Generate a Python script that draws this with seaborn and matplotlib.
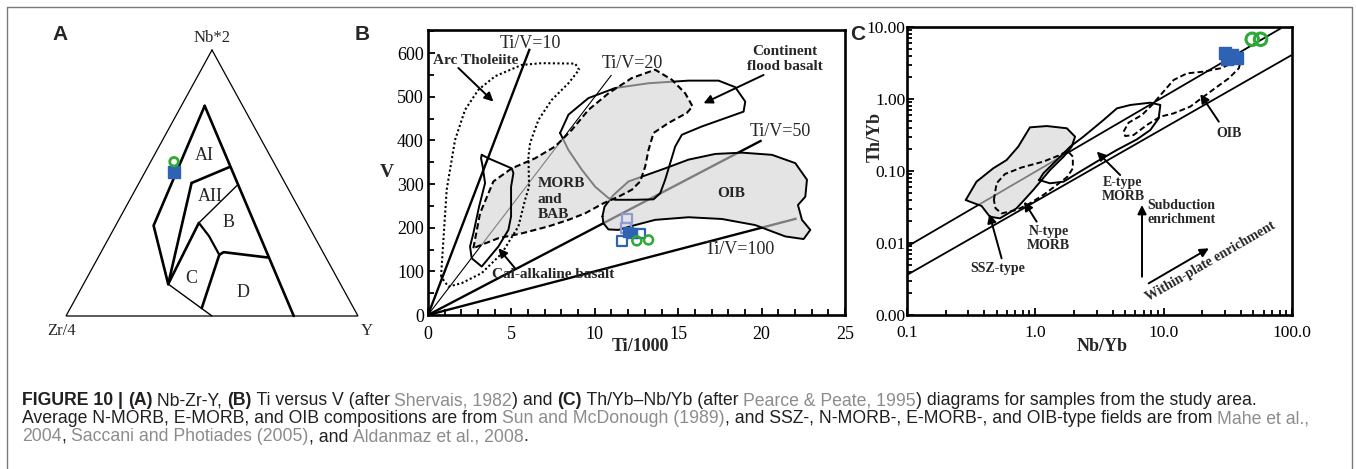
import numpy as np
import pandas as pd
import matplotlib
matplotlib.use("Agg")
import matplotlib.pyplot as plt
import seaborn as sns
from matplotlib.lines import Line2D
from matplotlib.ticker import MultipleLocator, FixedLocator, LogLocator, NullFormatter

W, H = 1356, 469
DPI = 100

# ---------------- Panel A: Nb*2 - Zr/4 - Y ternary (Nb, Zr, Y in %) ----------------
tri_outline = [(100, 0, 0), (0, 100, 0), (0, 0, 100), (100, 0, 0)]
a_right = [(79, 13, 8), (0, 22, 78)]
a_outer_left = [(79, 13, 8), (34, 53, 13), (12, 59, 29)]
a_aii_left = [(50, 32, 18), (12, 59, 29)]
a_ai_aii = [(50, 32, 18), (56, 16, 28)]
a_aii_b = [(49, 17, 34), (35, 37, 28)]
a_c_left = [(35, 37, 28), (12, 59, 29)]
a_b_c = [(35, 37, 28), (30, 36, 34), (23, 36, 41)]
a_b_d = [(23, 36, 41), (24, 34, 42), (22, 20, 58)]
a_c_d = [(23, 36, 41), (3, 52, 45)]
a_base_tie = [(12, 59, 29), (0, 50, 50)]
a_samples_sq = [(54, 36, 10)]
a_samples_ci = [(58, 34, 8)]

# ---------------- Panel B: Ti/1000 vs V ----------------
tiv_ratio = [10, 20, 50, 100]
tiv_xend = [6.1, 11.0, 20.0, 22.1]

arc_x = [0.78, 1.12, 1.62, 2.22, 3.02, 4.02, 5.62, 6.82, 8.82, 9.06, 8.42, 7.42, 6.62,
         6.12, 6.02, 6.06, 5.82, 5.42, 4.42, 3.22, 2.02, 1.22, 0.78]
arc_y = [88, 287, 401, 470, 516, 547, 573, 577, 576, 562, 531, 493, 447,
         394, 363, 294, 264, 203, 141, 96, 73, 65, 88]

calc_x = [3.22, 3.62, 5.02, 5.12, 4.98, 4.98, 4.82, 4.22, 3.22, 2.62, 2.52, 2.72, 3.06,
          3.42, 3.28, 3.18, 3.22]
calc_y = [367, 359, 336, 325, 294, 226, 195, 157, 111, 130, 157, 187, 248,
          302, 340, 359, 367]

morb_x = [2.72, 3.12, 3.92, 5.02, 6.42, 7.62, 8.62, 9.62, 10.82, 12.22, 13.62, 14.62, 15.42,
          15.86, 15.52, 14.42, 13.52, 13.22, 13.02, 12.72, 12.22, 11.42, 10.52, 9.42, 8.42,
          7.22, 5.62, 4.22, 3.22, 2.72]
morb_y = [153, 233, 306, 336, 359, 386, 424, 470, 508, 543, 562, 539, 508,
          478, 463, 440, 417, 378, 340, 306, 287, 271, 256, 233, 218,
          203, 187, 176, 161, 153]

cfb_x = [7.92, 8.42, 9.62, 11.22, 13.22, 15.62, 17.42, 18.42, 19.02, 18.92, 17.82, 16.42,
         15.22, 14.82, 14.52, 14.22, 13.92, 13.52, 12.42, 11.22, 10.82, 10.02, 9.22, 8.42, 7.92]
cfb_y = [417, 459, 497, 520, 531, 537, 537, 522, 489, 466, 451, 432,
         413, 386, 348, 310, 279, 265, 264, 264, 268, 294, 333, 378, 417]

oibb_x = [10.46, 10.58, 11.12, 12.02, 12.82, 14.22, 15.62, 17.22, 18.82, 20.62, 22.02, 22.72,
          22.62, 22.18, 22.42, 22.92, 22.52, 21.42, 19.62, 17.62, 15.62, 13.62, 12.22, 11.42,
          10.82, 10.52, 10.46]
oibb_y = [226, 248, 275, 306, 317, 336, 356, 369, 372, 367, 348, 310,
          271, 252, 218, 195, 174, 180, 206, 220, 224, 218, 204, 195,
          196, 210, 226]

b_lav_x, b_lav_y = [11.92, 11.86], [221, 199]
b_blue_fill_x, b_blue_fill_y = [12.02, 12.22], [191, 187]
b_blue_open_x, b_blue_open_y = [11.62, 12.72], [170, 187]
b_green_x, b_green_y = [12.52, 13.22], [170, 172]

# ---------------- Panel C: Nb/Yb vs Th/Yb ----------------
arr_upper_x, arr_upper_y = [0.1, 82], [0.0089, 9.6]
arr_lower_x, arr_lower_y = [0.1, 100], [0.0036, 4.1]

ssz_x = [0.287, 0.348, 0.470, 0.597, 0.736, 0.908, 1.23, 1.76, 2.04, 1.92, 1.66, 1.30,
         0.964, 0.714, 0.530, 0.442, 0.381, 0.309, 0.287]
ssz_y = [0.0396, 0.0711, 0.109, 0.142, 0.218, 0.404, 0.421, 0.392, 0.300, 0.218, 0.158, 0.103,
         0.0545, 0.0303, 0.022, 0.0232, 0.0327, 0.0375, 0.0396]

nmorb_x = [0.475, 0.499, 0.580, 0.782, 1.155, 1.56, 1.78, 1.96, 1.96, 1.78, 1.47, 1.155,
           0.908, 0.714, 0.546, 0.49, 0.475]
nmorb_y = [0.0396, 0.0675, 0.0908, 0.112, 0.135, 0.167, 0.191, 0.158, 0.109, 0.0834, 0.064,
           0.0465, 0.0356, 0.0287, 0.0258, 0.0303, 0.0396]

emorb_x = [1.07, 1.30, 1.66, 2.23, 3.01, 4.32, 6.19, 7.87, 9.14, 9.42, 7.87, 5.50, 4.32,
           3.40, 2.37, 1.87, 1.47, 1.155, 1.07]
emorb_y = [0.075, 0.0675, 0.0711, 0.098, 0.135, 0.196, 0.275, 0.371, 0.538, 0.826, 0.889,
           0.826, 0.741, 0.511, 0.300, 0.218, 0.142, 0.0929, 0.075]

oibc_x = [4.87, 5.33, 6.78, 8.11, 9.71, 11.97, 15.2, 20.5, 27.7, 35.2, 39.3, 38.5, 32.2,
          26.1, 20.5, 16.1, 11.97, 9.42, 7.41, 5.83, 5.01, 4.87]
oibc_y = [0.352, 0.469, 0.600, 0.826, 1.20, 1.84, 2.27, 2.40, 2.67, 3.20, 3.06, 2.67, 1.94,
          1.48, 1.08, 0.783, 0.632, 0.569, 0.436, 0.316, 0.306, 0.352]

c_sq_x, c_sq_y = [30.3, 34.2, 37.0, 31.3], [4.31, 4.08, 3.67, 3.56]
c_ci_x, c_ci_y = [49.0, 56.9], [6.75, 6.75]

c_xticks = [0.1, 1, 10, 100]
c_xticklabels = ["0.1", "1.0", "10.0", "100.0"]
c_yticks = [0.001, 0.01, 0.1, 1, 10]
c_yticklabels = ["0.00", "0.01", "0.10", "1.00", "10.00"]

# ---------------- style ----------------
sns.set_theme(style="white")
plt.rcParams["font.family"] = ["Liberation Serif", "DejaVu Serif"]
plt.rcParams["axes.edgecolor"] = "black"
plt.rcParams["xtick.color"] = "black"
plt.rcParams["ytick.color"] = "black"

BLUE = "#2e63b3"
LAV = "#8f9bd3"
GREEN = "#2da936"
FILL = "#d3d3d3"
FILL_ALPHA = 0.6

fig = plt.figure(figsize=(W / DPI, H / DPI), dpi=DPI)


def px_box(l, t, r, b):
    return [l / W, 1 - b / H, (r - l) / W, (b - t) / H]


# ---------------- Panel A ----------------
axA = fig.add_axes(px_box(66, 50, 358, 316))
axA.set_xlim(0, 1)
axA.set_ylim(0, 1)
axA.axis("off")


def tern_xy(pts):
    a = np.asarray(pts, float) / 100.0
    nb, yv = a[:, 0], a[:, 2]
    return yv + nb / 2.0, nb


x, y = tern_xy(tri_outline)
axA.plot(x, y, color="black", lw=0.9, clip_on=False, solid_joinstyle="miter")
for seg, lw in [(a_right, 1.9), (a_outer_left, 1.9), (a_aii_left, 1.9), (a_ai_aii, 1.9),
                (a_aii_b, 1.0), (a_c_left, 1.9), (a_b_c, 1.6), (a_b_d, 1.9), (a_c_d, 1.9),
                (a_base_tie, 1.0)]:
    x, y = tern_xy(seg)
    axA.plot(x, y, color="black", lw=lw, clip_on=False)

sx, sy = tern_xy(a_samples_sq)
sns.scatterplot(x=sx, y=sy, ax=axA, marker="s", s=75, color=BLUE, edgecolor=BLUE,
                linewidth=1, clip_on=False, zorder=5, legend=False)
cx, cy = tern_xy(a_samples_ci)
sns.scatterplot(x=cx, y=cy, ax=axA, marker="o", s=38, color=GREEN, facecolor="none",
                edgecolor=GREEN, linewidth=2, clip_on=False, zorder=5, legend=False)

for txt, tx, ty, ha in [("Nb*2", 0.5, 1.045, "center"), ("Zr/4", -0.014, -0.055, "center"),
                        ("Y", 1.031, -0.055, "center")]:
    axA.text(tx, ty, txt, ha=ha, va="center", fontsize=12, clip_on=False)

for txt, comp in [("AI", (60.5, 22.5, 17)), ("AII", (45, 28, 27)), ("B", (35, 27, 38)),
                  ("C", (14, 50, 36)), ("D", (9, 35, 56))]:
    lx, ly = tern_xy([comp])
    axA.text(lx[0], ly[0], txt, ha="center", va="center", fontsize=13)

# ---------------- Panel B ----------------
axB = fig.add_axes(px_box(428, 30, 845, 315))
axB.set_xlim(0, 25)
axB.set_ylim(0, 653)

for ratio, xe in zip(tiv_ratio, tiv_xend):
    xs = np.array([0.0, xe])
    lw = 0.8 if ratio == 20 else 1.7
    z = 4 if ratio == 10 else 1
    axB.plot(xs, xs * 1000.0 / ratio, color="black", lw=lw, zorder=z,
             solid_capstyle="butt")

axB.fill(oibb_x, oibb_y, color=FILL, alpha=FILL_ALPHA, lw=0, zorder=1.5)
axB.plot(oibb_x, oibb_y, color="black", lw=1.4, zorder=2)
axB.plot(cfb_x, cfb_y, color="black", lw=1.4, zorder=2)
axB.fill(morb_x, morb_y, color=FILL, alpha=FILL_ALPHA, lw=0, zorder=2.5)
axB.plot(morb_x, morb_y, color="black", lw=1.5, ls=(0, (3.0, 1.6)), zorder=3)
axB.plot(calc_x, calc_y, color="black", lw=1.4, zorder=3)
axB.plot(arc_x, arc_y, color="black", lw=1.5, ls=(0, (1.0, 1.2)), zorder=3)

sns.scatterplot(x=b_lav_x, y=b_lav_y, ax=axB, marker="s", s=48, color=LAV, facecolor="none",
                edgecolor=LAV, linewidth=1.6, zorder=6, legend=False)
sns.scatterplot(x=b_blue_fill_x, y=b_blue_fill_y, ax=axB, marker="s", s=55, color=BLUE,
                edgecolor=BLUE, linewidth=1, zorder=6, legend=False)
sns.scatterplot(x=b_blue_open_x, y=b_blue_open_y, ax=axB, marker="s", s=48, color=BLUE,
                facecolor="none", edgecolor=BLUE, linewidth=1.6, zorder=6, legend=False)
sns.scatterplot(x=b_green_x, y=b_green_y, ax=axB, marker="o", s=42, color=GREEN,
                facecolor="none", edgecolor=GREEN, linewidth=1.8, zorder=6, legend=False)

bold_b = dict(fontsize=11, fontweight="bold", zorder=7)
axB.text(0.3, 582, "Arc Tholeiite", ha="left", va="center", **bold_b)
axB.text(21.4, 587, "Continent\nflood basalt", ha="center", va="center",
         linespacing=1.2, **bold_b)
axB.text(18.2, 279, "OIB", ha="center", va="center", **bold_b)
axB.text(6.58, 265, "MORB\nand\nBAB", ha="left", va="center", linespacing=1.25, **bold_b)
axB.text(3.82, 92, "Cal-alkaline basalt", ha="left", va="center", **bold_b)
for txt, tx, ty in [("Ti/V=10", 4.3, 623), ("Ti/V=20", 10.4, 577),
                    ("Ti/V=50", 19.3, 420), ("Ti/V=100", 16.6, 151)]:
    axB.text(tx, ty, txt, ha="left", va="center", fontsize=13, zorder=7)

arrow_kw = dict(arrowstyle="-|>", color="black", lw=1.4, mutation_scale=13,
                shrinkA=0, shrinkB=0)
for tail, head in [((1.82, 566), (3.92, 489)), ((20.12, 550), (16.52, 485)),
                   ((5.22, 107), (4.22, 153))]:
    axB.annotate("", xy=head, xytext=tail, arrowprops=arrow_kw, zorder=7)

axB.xaxis.set_major_locator(MultipleLocator(5))
axB.xaxis.set_minor_locator(MultipleLocator(1))
axB.yaxis.set_major_locator(MultipleLocator(100))
axB.yaxis.set_minor_locator(MultipleLocator(50))
axB.tick_params(which="both", direction="in", width=1.3, labelsize=13, top=False, right=False,
                bottom=True, left=True)
axB.tick_params(which="major", length=5)
axB.tick_params(which="minor", length=4)
axB.tick_params(axis="x", pad=8)
axB.tick_params(axis="y", pad=3)
for sp in axB.spines.values():
    sp.set_linewidth(1.9)
    sp.set_color("black")
axB.set_xlabel("Ti/1000", fontsize=13, fontweight="bold")
axB.xaxis.set_label_coords((640 - 428) / 417, -(338 - 315) / 285)
axB.set_ylabel("")
axB.text((387 - 428) / 417, (315 - 172) / 285, "V", transform=axB.transAxes, ha="center",
         va="center", fontsize=14, fontweight="bold")

# ---------------- Panel C ----------------
axC = fig.add_axes(px_box(907, 27, 1292, 315))
axC.set_xscale("log")
axC.set_yscale("log")
axC.set_xlim(0.1, 100)
axC.set_ylim(0.001, 10)

axC.plot(arr_upper_x, arr_upper_y, color="black", lw=1.3, zorder=1)
axC.plot(arr_lower_x, arr_lower_y, color="black", lw=1.3, zorder=1)
axC.fill(ssz_x, ssz_y, color=FILL, alpha=FILL_ALPHA, lw=0, zorder=2)
axC.plot(ssz_x, ssz_y, color="black", lw=1.4, zorder=3)
axC.plot(nmorb_x, nmorb_y, color="black", lw=1.4, ls=(0, (3.0, 1.6)), zorder=3)
axC.plot(emorb_x, emorb_y, color="black", lw=1.4, zorder=3)
axC.plot(oibc_x, oibc_y, color="black", lw=1.4, ls=(0, (3.0, 1.6)), zorder=3)

sns.scatterplot(x=c_sq_x, y=c_sq_y, ax=axC, marker="s", s=80, color=BLUE, edgecolor=BLUE,
                linewidth=1, zorder=6, legend=False)
sns.scatterplot(x=c_ci_x, y=c_ci_y, ax=axC, marker="o", s=80, color=GREEN, facecolor="none",
                edgecolor=GREEN, linewidth=2.2, zorder=6, legend=False, clip_on=False)

bold_c = dict(fontsize=10, fontweight="bold", zorder=7)
axC.text(0.514, 0.00445, "SSZ-type", ha="center", va="center", **bold_c)
axC.text(1.265, 0.0116, "N-type\nMORB", ha="center", va="center", linespacing=1.15, **bold_c)
axC.text(4.81, 0.0556, "E-type\nMORB", ha="center", va="center", linespacing=1.15, **bold_c)
axC.text(32.6, 0.333, "OIB", ha="center", va="center", **bold_c)
axC.text(7.5, 0.0267, "Subduction\nenrichment", ha="left", va="center", linespacing=1.15,
         **bold_c)
axC.text(23.2, 0.0055, "Within-plate enrichment", ha="center", va="center", rotation=30,
         rotation_mode="anchor", **bold_c)

for tail, head in [((0.546, 0.00612), (0.438, 0.0253)), ((1.024, 0.0198), (0.816, 0.0375)),
                   ((4.58, 0.0879), (3.01, 0.186)), ((26.9, 0.484), (19.3, 1.17)),
                   ((6.78, 0.0034), (6.78, 0.0337)), ((7.64, 0.00275), (22.5, 0.00844))]:
    axC.annotate("", xy=head, xytext=tail, arrowprops=arrow_kw, zorder=7)

axC.xaxis.set_major_locator(FixedLocator(c_xticks))
axC.set_xticklabels(c_xticklabels)
axC.yaxis.set_major_locator(FixedLocator(c_yticks))
axC.set_yticklabels(c_yticklabels)
axC.xaxis.set_minor_locator(LogLocator(base=10, subs=np.arange(2, 10)))
axC.yaxis.set_minor_locator(LogLocator(base=10, subs=np.arange(2, 10)))
axC.xaxis.set_minor_formatter(NullFormatter())
axC.yaxis.set_minor_formatter(NullFormatter())
axC.tick_params(which="both", direction="in", width=1.3, labelsize=12.5, top=False,
                right=False, bottom=True, left=True)
axC.tick_params(which="major", length=5)
axC.tick_params(which="minor", length=3.5)
axC.tick_params(axis="x", pad=7)
axC.tick_params(axis="y", pad=1)
for sp in axC.spines.values():
    sp.set_linewidth(1.9)
    sp.set_color("black")
axC.set_xlabel("Nb/Yb", fontsize=13, fontweight="bold")
axC.xaxis.set_label_coords((1102 - 907) / 385, -(338 - 315) / 288)
axC.set_ylabel("")
axC.text((875 - 907) / 385, (315 - 137) / 288, "Th/Yb", transform=axC.transAxes,
         ha="center", va="center", rotation=90, fontsize=13, fontweight="bold")

# ---------------- panel letters ----------------
for letter, lx in [("A", 52), ("B", 355), ("C", 850)]:
    fig.text(lx / W, 1 - 34 / H, letter, ha="left", va="center", fontsize=15,
             fontweight="bold", family=["Liberation Sans", "DejaVu Sans"])

# ---------------- frame ----------------
frame_kw = dict(color="#7a7a7a", lw=1.0, transform=fig.transFigure)
fig.add_artist(Line2D([7 / W, 7 / W, 1352 / W, 1352 / W],
                      [0, 1 - 7 / H, 1 - 7 / H, 0], **frame_kw))

# ---------------- caption ----------------
DARK = "#231f20"
GREY = "#8c8c8c"
CAP_FONT = ["Liberation Sans", "DejaVu Sans"]
cap_lines = [
    [("FIGURE 10 | ", "bold", DARK), ("(A)", "bold", DARK), (" Nb-Zr-Y, ", "normal", DARK),
     ("(B)", "bold", DARK), (" Ti versus V (after ", "normal", DARK),
     ("Shervais, 1982", "normal", GREY), (") and ", "normal", DARK), ("(C)", "bold", DARK),
     (" Th/Yb\u2013Nb/Yb (after ", "normal", DARK), ("Pearce & Peate, 1995", "normal", GREY),
     (") diagrams for samples from the study area.", "normal", DARK)],
    [("Average N-MORB, E-MORB, and OIB compositions are from ", "normal", DARK),
     ("Sun and McDonough (1989)", "normal", GREY),
     (", and SSZ-, N-MORB-, E-MORB-, and OIB-type fields are from ", "normal", DARK),
     ("Mahe et al.,", "normal", GREY)],
    [("2004", "normal", GREY), (", ", "normal", DARK),
     ("Saccani and Photiades (2005)", "normal", GREY), (", and ", "normal", DARK),
     ("Aldanmaz et al., 2008", "normal", GREY), (".", "normal", DARK)],
]
renderer = fig.canvas.get_renderer()


def run_width(txt, weight, size):
    probe = fig.text(0, 0, "|" + txt + "|", fontsize=size, fontweight=weight, family=CAP_FONT)
    bar = fig.text(0, 0, "||", fontsize=size, fontweight=weight, family=CAP_FONT)
    w = probe.get_window_extent(renderer).width - bar.get_window_extent(renderer).width
    probe.remove()
    bar.remove()
    return w


base_size = 10.0
line1_w = sum(run_width(t, wt, base_size) for t, wt, _ in cap_lines[0])
cap_size = base_size * (1241.0 / line1_w)

for baseline, runs in zip([405, 423, 441], cap_lines):
    xpos = 22.0
    for txt, wt, col in runs:
        fig.text(xpos / W, 1 - baseline / H, txt, fontsize=cap_size, fontweight=wt, color=col,
                 family=CAP_FONT, ha="left", va="baseline")
        xpos += run_width(txt, wt, cap_size)

fig.savefig("out.png", dpi=DPI)
